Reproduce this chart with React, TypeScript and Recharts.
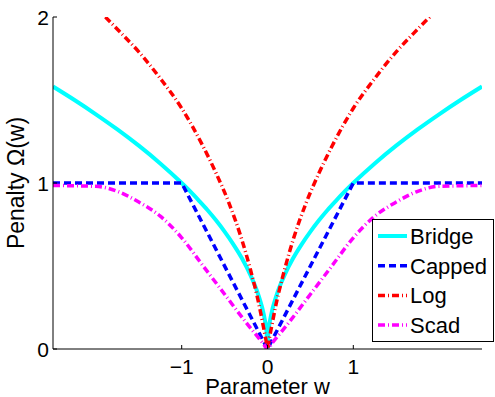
import React from "react";
import { LineChart, Line, XAxis, YAxis, Label } from "recharts";

// values (w = parameter, v = penalty)
const bridgeW = [-2.5, -2.25, -2, -1.75, -1.5, -1.25, -1, -0.9, -0.8, -0.7, -0.6, -0.5, -0.4, -0.3, -0.2, -0.15, -0.1, -0.06, -0.03, -0.01, 0, 0.01, 0.03, 0.06, 0.1, 0.15, 0.2, 0.3, 0.4, 0.5, 0.6, 0.7, 0.8, 0.9, 1, 1.25, 1.5, 1.75, 2, 2.25, 2.5];
const bridgeV = [1.581, 1.5, 1.414, 1.323, 1.225, 1.118, 1, 0.949, 0.894, 0.837, 0.775, 0.707, 0.632, 0.548, 0.447, 0.387, 0.316, 0.245, 0.173, 0.1, 0, 0.1, 0.173, 0.245, 0.316, 0.387, 0.447, 0.548, 0.632, 0.707, 0.775, 0.837, 0.894, 0.949, 1, 1.118, 1.225, 1.323, 1.414, 1.5, 1.581];

const cappedW = [-2.5, -1, 0, 1, 2.5];
const cappedV = [1, 1, 0, 1, 1];

const logW = [-1.89, -1.7, -1.5, -1.25, -1, -0.75, -0.6, -0.45, -0.3, -0.2, -0.1, -0.05, -0.02, 0, 0.02, 0.05, 0.1, 0.2, 0.3, 0.45, 0.6, 0.75, 1, 1.25, 1.5, 1.7, 1.89];
const logV = [2, 1.9, 1.79, 1.63, 1.45, 1.22, 1.06, 0.88, 0.66, 0.48, 0.27, 0.14, 0.06, 0, 0.06, 0.14, 0.27, 0.48, 0.66, 0.88, 1.06, 1.22, 1.45, 1.63, 1.79, 1.9, 2];

const scadW = [-2.5, -2, -1.75, -1.5, -1.25, -1, -0.75, -0.5, -0.25, -0.05, 0, 0.05, 0.25, 0.5, 0.75, 1, 1.25, 1.5, 1.75, 2, 2.5];
const scadV = [0.985, 0.98, 0.95, 0.885, 0.8, 0.67, 0.5, 0.33, 0.16, 0.033, 0, 0.033, 0.16, 0.33, 0.5, 0.67, 0.8, 0.885, 0.95, 0.98, 0.985];

const xTicks = [-1, 0, 1];
const yTicks = [0, 1, 2];

const toPoints = (ws: number[], vs: number[]) => ws.map((w, i) => ({ w, v: vs[i] }));

const series = [
  { name: "Bridge", data: toPoints(bridgeW, bridgeV), color: "#00FFFF", dash: undefined, width: 4, type: "monotone" },
  { name: "Capped", data: toPoints(cappedW, cappedV), color: "#0000FF", dash: "7 4", width: 3.5, type: "linear" },
  { name: "Log", data: toPoints(logW, logV), color: "#FF0000", dash: "7 3 1 3", width: 3.5, type: "monotone" },
  { name: "Scad", data: toPoints(scadW, scadV), color: "#FF00FF", dash: "7 3 1 3", width: 3.5, type: "monotone" },
];

const FONT = "'Liberation Sans', Arial, Helvetica, sans-serif";
const fmt = (n: number) => (n < 0 ? "\u2212" + Math.abs(n) : String(n));

const XTick = (props: any) => {
  const { x, y, payload } = props;
  return (
    <g>
      <line x1={x} x2={x} y1={y} y2={y - 4} stroke="#000" strokeWidth={1} />
      <text x={x} y={y + 25} textAnchor="middle" fontSize={21} fontFamily={FONT} fill="#000">
        {fmt(payload.value)}
      </text>
    </g>
  );
};

const YTick = (props: any) => {
  const { x, y, payload } = props;
  return (
    <g>
      <line x1={x} x2={x + 4} y1={y} y2={y} stroke="#000" strokeWidth={1} />
      <text x={x - 4} y={y} dy="0.36em" textAnchor="end" fontSize={21} fontFamily={FONT} fill="#000">
        {fmt(payload.value)}
      </text>
    </g>
  );
};

function LegendBox() {
  return (
    <div
      style={{
        position: "absolute",
        left: 372,
        top: 219,
        width: 122,
        height: 123,
        boxSizing: "border-box",
        border: "1px solid #000",
        background: "#fff",
      }}
    >
      <svg width={120} height={121} style={{ display: "block" }}>
        {series.map((s, i) => {
          const cy = 16 + i * 29.7;
          return (
            <g key={s.name}>
              <line x1={5} x2={34} y1={cy} y2={cy} stroke={s.color} strokeWidth={s.width} strokeDasharray={s.dash} />
              <text x={37} y={cy} dy="0.36em" fontSize={22} fontFamily={FONT} fill="#000">
                {s.name}
              </text>
            </g>
          );
        })}
      </svg>
    </div>
  );
}

export default function App() {
  return (
    <div style={{ position: "absolute", left: 0, top: 0, width: 495, height: 397, background: "#fff" }}>
      <LineChart width={495} height={397} margin={{ top: 17, right: 13, bottom: 0, left: 1 }}>
        <XAxis
          dataKey="w"
          type="number"
          domain={[-2.5, 2.5]}
          ticks={xTicks}
          allowDataOverflow
          height={48}
          tickSize={0}
          tickMargin={0}
          tickLine={false}
          tick={<XTick />}
          axisLine={{ stroke: "#000", strokeWidth: 1 }}
          interval={0}
        >
          <Label
            content={(p: any) => {
              const vb = p.viewBox;
              return (
                <text x={vb.x + vb.width / 2} y={vb.y + 45} textAnchor="middle" fontSize={22} fontFamily={FONT} fill="#000">
                  Parameter w
                </text>
              );
            }}
          />
        </XAxis>
        <YAxis
          dataKey="v"
          type="number"
          domain={[0, 2]}
          ticks={yTicks}
          allowDataOverflow
          width={52}
          tickSize={0}
          tickMargin={0}
          tickLine={false}
          tick={<YTick />}
          axisLine={{ stroke: "#000", strokeWidth: 1 }}
          interval={0}
        >
          <Label
            content={(p: any) => {
              const vb = p.viewBox;
              const cy = vb.y + vb.height / 2;
              return (
                <text x={24} y={cy} transform={`rotate(-90 24 ${cy})`} textAnchor="middle" fontSize={23} fontFamily={FONT} fill="#000">
                  Penalty Ω(w)
                </text>
              );
            }}
          />
        </YAxis>
        {series.map((s) => (
          <Line
            key={s.name}
            data={s.data}
            dataKey="v"
            type={s.type as any}
            stroke={s.color}
            strokeWidth={s.width}
            strokeDasharray={s.dash}
            dot={false}
            activeDot={false}
            isAnimationActive={false}
          />
        ))}
      </LineChart>
      <LegendBox />
    </div>
  );
}
